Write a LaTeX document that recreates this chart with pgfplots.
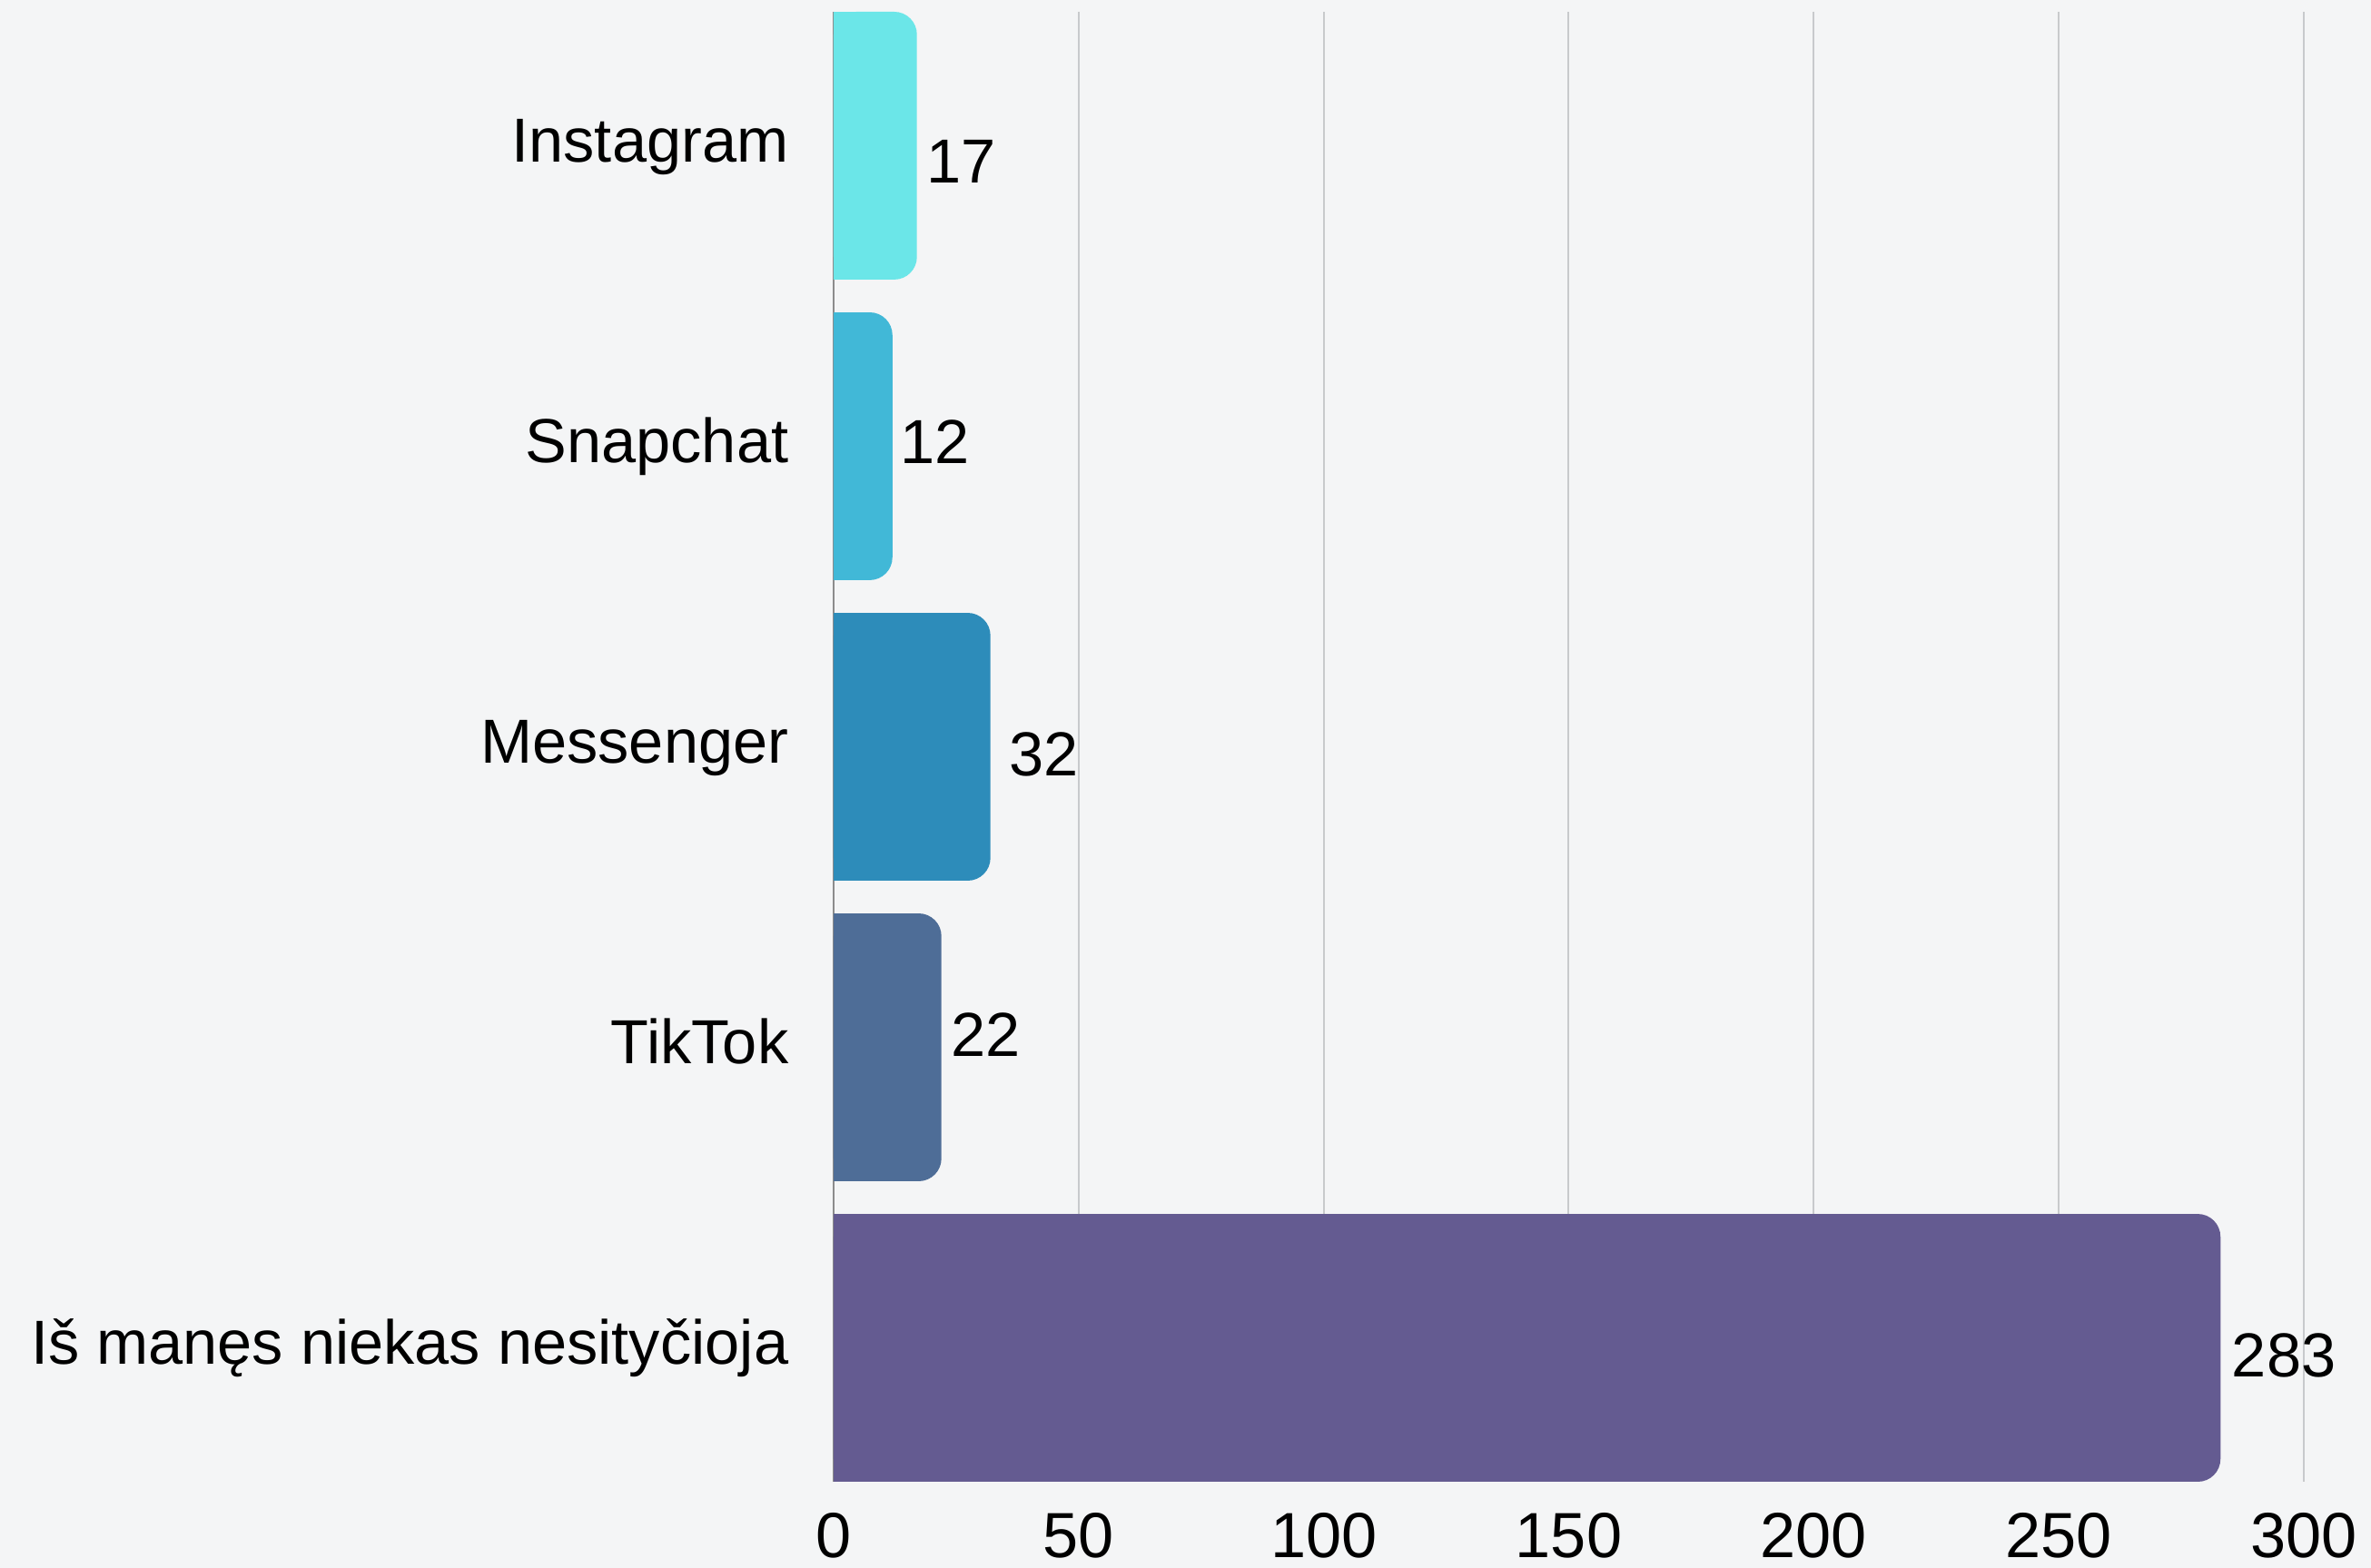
\documentclass[border=0pt]{standalone}
\usepackage{pgfplots}
\pgfplotsset{compat=1.18}
\usepackage{fontspec}
\setmainfont{Liberation Sans}

\definecolor{bg}{HTML}{F4F5F6}
\definecolor{gridc}{HTML}{C8CACC}
\definecolor{axisc}{HTML}{8C8C8C}
\definecolor{cInsta}{HTML}{6BE6E8}
\definecolor{cSnap}{HTML}{41B8D7}
\definecolor{cMess}{HTML}{2D8CBA}
\definecolor{cTik}{HTML}{4E6D97}
\definecolor{cNone}{HTML}{645B91}

\pgfplotsset{
  roundbar/.style={xbar, bar shift=0pt, draw=none, fill=#1, rounded corners=0.25cm,
    nodes near coords, nodes near coords align=horizontal},
  % square left end: covers the rounded left corners of each bar
  squarebar/.style={xbar, bar shift=0pt, draw=none, fill=#1, sharp corners, forget plot},
}

\begin{document}
\begin{tikzpicture}
\fill[bg] (0,0) rectangle (26.11,17.27);
\begin{axis}[
  at={(9.18cm,0.95cm)}, anchor=south west,
  width=16.19cm, height=16.19cm, scale only axis,
  xmin=0, xmax=300, xtick={0,50,...,300},
  ymin=-0.4455, ymax=4.4455, y dir=reverse,
  ytick={0,...,4},
  yticklabels={Instagram, Snapchat, Messenger, TikTok, Iš manęs niekas nesityčioja},
  bar width=0.891,
  axis line style={draw=none},
  major tick length=0pt,
  xmajorgrids, major grid style={gridc, line width=0.02cm},
  extra x ticks={0}, extra x tick labels={},
  extra x tick style={major grid style={axisc, line width=0.02cm}},
  /pgf/number format/assume math mode=true,
  tick label style={font=\fontsize{19.5}{23}\selectfont, black, inner sep=0pt},
  xticklabel style={font=\fontsize{20}{24}\selectfont, yshift=-0.34cm},
  yticklabel style={anchor=base east, xshift=-0.49cm, yshift=-5pt},
  every node near coord/.append style={font=\fontsize{19.5}{23}\selectfont, black, anchor=west, inner sep=0pt},
]
\addplot[roundbar=cInsta, every node near coord/.append style={xshift=0.1cm, yshift=-0.17cm}] coordinates {(17,0)};
\addplot[squarebar=cInsta] coordinates {(7,0)};
\addplot[roundbar=cSnap, every node near coord/.append style={xshift=0.08cm, yshift=0.05cm}] coordinates {(12,1)};
\addplot[squarebar=cSnap] coordinates {(7,1)};
\addplot[roundbar=cMess, every node near coord/.append style={xshift=0.2cm, yshift=-0.08cm}] coordinates {(32,2)};
\addplot[squarebar=cMess] coordinates {(7,2)};
\addplot[roundbar=cTik, every node near coord/.append style={xshift=0.1cm, yshift=0.14cm}] coordinates {(22,3)};
\addplot[squarebar=cTik] coordinates {(7,3)};
\addplot[roundbar=cNone, every node near coord/.append style={xshift=0.12cm, yshift=-0.08cm}] coordinates {(283,4)};
\addplot[squarebar=cNone] coordinates {(7,4)};
\end{axis}
\end{tikzpicture}
\end{document}
